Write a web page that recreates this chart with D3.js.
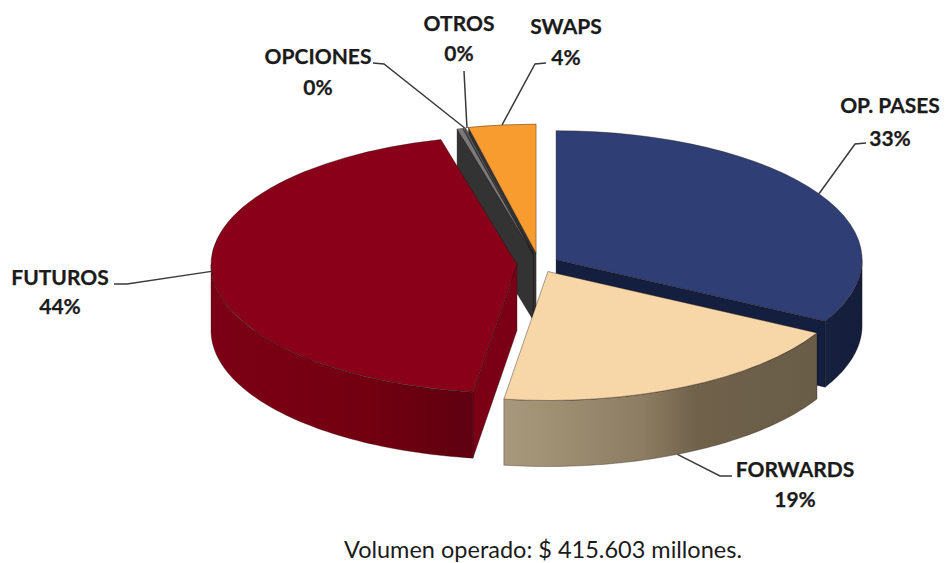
<!DOCTYPE html>
<html>
<head>
<meta charset="utf-8">
<script src="https://cdn.jsdelivr.net/npm/d3@7/dist/d3.min.js"></script>
<style>
  html, body { margin: 0; padding: 0; background: #fff; }
  svg { display: block; }
  text { font-family: Lato, "Open Sans", sans-serif; fill: #1b1b1b; }
  .name, .pct { font-weight: 700; font-size: 21px; text-anchor: middle; stroke: #1b1b1b; stroke-width: 0.25px; }
  .foot { font-size: 23.5px; }
</style>
</head>
<body>
<svg id="chart" width="945" height="563"></svg>
<script>
// Market share by instrument, in percent of traded volume
const categories = ["OP. PASES", "FORWARDS", "FUTUROS", "OPCIONES", "OTROS", "SWAPS"];
const shares = [32.9, 19.4, 43.7, 0.3, 0.15, 3.55];
const footnote = "Volumen operado: $ 415.603 millones.";

// Appearance of each slice
const explode = [0.065, 0.065, 0.072, 0.08, 0.08, 0.085];
const topColors = ["#2f3f75", "#f7d7a7", "#8a0019", "#7a7a7a", "#555555", "#f89c30"];
const faceColors = ["#141e3e", "#6f614a", "#7b0015", "#333333", "#333333", "#333333"];
const wallStops = [
  [["0%", "#16213f"], ["100%", "#141d3a"]],
  [["0%", "#a9997c"], ["45%", "#8c7c61"], ["62%", "#6f614a"], ["100%", "#6a5d47"]],
  [["0%", "#7c0015"], ["60%", "#72000f"], ["100%", "#5e0010"]],
  [["0%", "#333333"], ["100%", "#333333"]],
  [["0%", "#333333"], ["100%", "#333333"]],
  [["0%", "#333333"], ["100%", "#333333"]]
];
const paintOrder = [5, 4, 3, 0, 2, 1];

// Label placement: text centre, two baselines, and the elbow of the leader
const labelX = [890, 795, 60, 318, 459, 566];
const nameY = [113, 477, 285, 64, 31, 34];
const pctY = [146, 507, 314, 95, 61, 65];
const elbowStart = [[866, 143], [732, 476], [114, 284], [373, 63], [464, 71], [546, 63]];
const elbowMid = [[855, 144], [720, 476], [127, 284], [384, 64], [464, 71], [535, 64]];
const tipShiftDeg = [0, 1.6, 0, 1.0, 0.5, 0];

const cx = 539, cy = 264, rx = 306, ry = 129, depth = 66;
const TAU = 2 * Math.PI;

const svg = d3.select("#chart");
const defs = svg.append("defs");

const pie = d3.pie().sort(null).value(d => d);
const arcs = pie(shares);
const topArc = d3.arc().innerRadius(0).outerRadius(rx);

// Projects a pie angle on the tilted disc of a slice
const apexOf = i => {
  const a = (arcs[i].startAngle + arcs[i].endAngle) / 2;
  return [cx + explode[i] * rx * Math.sin(a), cy - explode[i] * ry * Math.cos(a)];
};
const rim = (i, a) => {
  const [ax, ay] = apexOf(i);
  return [ax + rx * Math.sin(a), ay - ry * Math.cos(a)];
};
const line = d3.line();

const layer = svg.append("g");

paintOrder.forEach(i => {
  const d = arcs[i];
  const [ax, ay] = apexOf(i);
  const g = layer.append("g");
  const edge = "rgba(30,15,15,0.55)";

  // Cut faces turned towards the viewer
  const faceAt = a => {
    const p = rim(i, a);
    return line([[ax, ay], p, [p[0], p[1] + depth], [ax, ay + depth]]) + "Z";
  };
  if (Math.sin(d.startAngle) < -1e-6) {
    g.append("path").attr("d", faceAt(d.startAngle)).attr("fill", faceColors[i]).attr("stroke", edge).attr("stroke-width", 0.6);
  }
  if (Math.sin(d.endAngle) > 1e-6) {
    g.append("path").attr("d", faceAt(d.endAngle)).attr("fill", faceColors[i]).attr("stroke", edge).attr("stroke-width", 0.6);
  }

  // Outer wall, only on the front half of the disc
  const a0 = Math.max(d.startAngle, TAU / 4), a1 = Math.min(d.endAngle, 3 * TAU / 4);
  if (a1 > a0) {
    const steps = d3.range(0, 61).map(k => a0 + (a1 - a0) * k / 60);
    const upper = steps.map(a => rim(i, a));
    const lower = upper.map(p => [p[0], p[1] + depth]).reverse();
    const xs = d3.extent(upper, p => p[0]);
    const gradient = defs.append("linearGradient")
      .attr("id", "wall" + i)
      .attr("gradientUnits", "userSpaceOnUse")
      .attr("x1", xs[0]).attr("x2", xs[1]).attr("y1", 0).attr("y2", 0);
    wallStops[i].forEach(s => gradient.append("stop").attr("offset", s[0]).attr("stop-color", s[1]));
    g.append("path")
      .attr("d", line(upper.concat(lower)) + "Z")
      .attr("fill", `url(#wall${i})`)
      .attr("stroke", edge).attr("stroke-width", 0.6);
  }

  // Top surface: a regular arc flattened into an ellipse
  g.append("path")
    .attr("transform", `translate(${ax},${ay}) scale(1,${ry / rx})`)
    .attr("d", topArc(d))
    .attr("fill", topColors[i])
    .attr("stroke", edge)
    .attr("stroke-width", 0.7)
    .attr("vector-effect", "non-scaling-stroke");
});

// Leader lines from the label to the middle of each slice
categories.forEach((name, i) => {
  const mid = (arcs[i].startAngle + arcs[i].endAngle) / 2 + tipShiftDeg[i] * Math.PI / 180;
  let tip = rim(i, mid);
  if (Math.cos(mid) < -0.2) tip = [tip[0], tip[1] + depth];
  svg.append("path")
    .attr("d", line([elbowStart[i], elbowMid[i], tip]))
    .attr("fill", "none")
    .attr("stroke", "#3a3a3a")
    .attr("stroke-width", 1.5);
});

// Labels
const pctFormat = d3.format(".0f");
categories.forEach((name, i) => {
  svg.append("text").attr("class", "name").attr("x", labelX[i]).attr("y", nameY[i]).text(name);
  svg.append("text").attr("class", "pct").attr("x", labelX[i]).attr("y", pctY[i]).text(pctFormat(shares[i]) + "%");
});

svg.append("text").attr("class", "foot").attr("x", 344).attr("y", 558).text(footnote);
</script>
</body>
</html>
